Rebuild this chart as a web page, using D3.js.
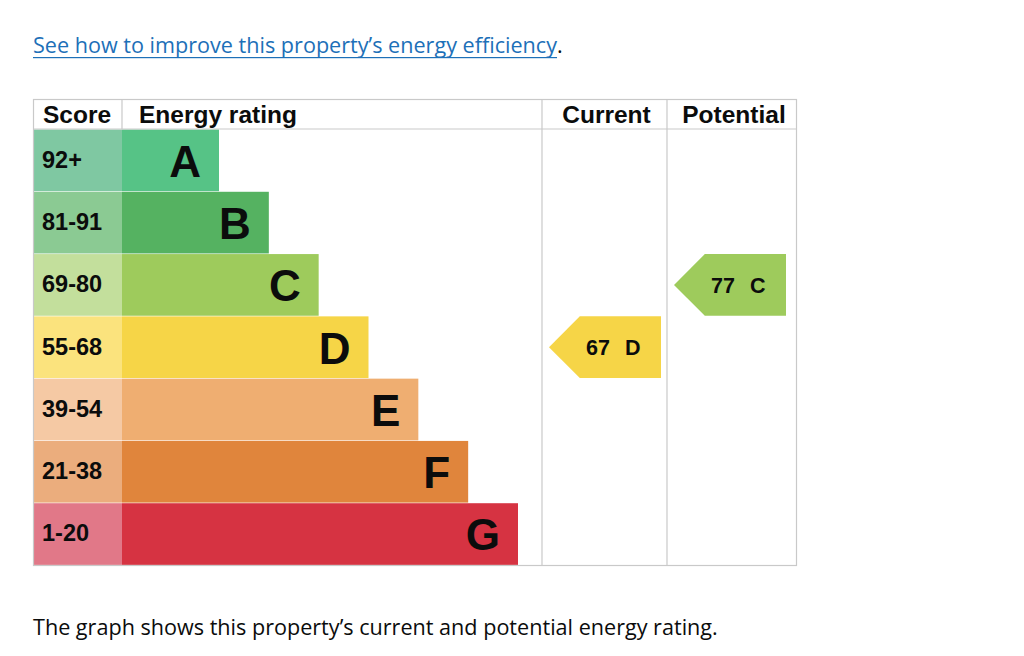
<!DOCTYPE html>
<html>
<head>
<meta charset="utf-8">
<script src="https://cdn.jsdelivr.net/npm/d3@7"></script>
<style>
  body { margin: 0; background: #fff; }
  svg { display: block; }
</style>
</head>
<body>
<svg width="1024" height="656"></svg>
<script>
// bands, score ranges and colours
var bands = ['A', 'B', 'C', 'D', 'E', 'F', 'G'];
var scoreRanges = ['92+', '81-91', '69-80', '55-68', '39-54', '21-38', '1-20'];
var bandColors = ['#56c386', '#55b261', '#9ecb5c', '#f6d547', '#efae71', '#e0853c', '#d63342'];
var scoreColors = ['#7fc8a2', '#8bca93', '#c3df9c', '#fbe37d', '#f5c9a4', '#ebad7d', '#e17888'];

// column headers
var headers = ['Score', 'Energy rating', 'Current', 'Potential'];

// current / potential ratings
var ratingCols = ['Current', 'Potential'];
var ratingScores = [67, 77];
var ratingBands = ['D', 'C'];

var svg = d3.select('svg');
var font = '"Liberation Sans", Arial, sans-serif';
var bodyFont = '"Open Sans", "Liberation Sans", Arial, sans-serif';

// layout
var tableL = 33, tableR = 797, tableT = 99, headBottom = 129.5, tableB = 565.5;
var colX = {'Score': 33, 'Energy rating': 122, 'Current': 542, 'Potential': 667};
var colEnd = {'Score': 122, 'Energy rating': 542, 'Current': 667, 'Potential': 797};

var y = d3.scaleBand().domain(bands).range([headBottom, tableB]);
var barEnd = d3.scalePoint().domain(bands).range([219, 518]);
var color = d3.scaleOrdinal().domain(bands).range(bandColors);
var scoreColor = d3.scaleOrdinal().domain(bands).range(scoreColors);

// link text at the top
var link = svg.append('text')
    .attr('x', tableL).attr('y', 53)
    .attr('font-family', bodyFont).attr('font-size', 21.6)
    .attr('fill', '#1d70b8')
    .text('See how to improve this property’s energy efficiency');
var linkW = link.node().getComputedTextLength();
svg.append('rect')
    .attr('x', tableL).attr('y', 57)
    .attr('width', linkW).attr('height', 1.2)
    .attr('fill', '#1d70b8');
svg.append('text')
    .attr('x', tableL + linkW).attr('y', 53)
    .attr('font-family', bodyFont).attr('font-size', 21.6)
    .attr('fill', '#0b0c0c')
    .text('.');

// score cells + bars
var rows = svg.selectAll('g.row').data(bands).enter().append('g').attr('class', 'row');

rows.append('rect')
    .attr('x', colX['Score'])
    .attr('y', d => y(d))
    .attr('width', colEnd['Score'] - colX['Score'])
    .attr('height', y.bandwidth() - 0.6)
    .attr('fill', d => scoreColor(d));

rows.append('rect')
    .attr('x', colX['Energy rating'])
    .attr('y', d => y(d))
    .attr('width', d => barEnd(d) - colX['Energy rating'])
    .attr('height', y.bandwidth() - 0.6)
    .attr('fill', d => color(d));

rows.append('text')
    .attr('x', colX['Score'] + 9)
    .attr('y', d => y(d) + y.bandwidth() / 2 + 7)
    .attr('font-family', font).attr('font-weight', 'bold').attr('font-size', 23.5)
    .attr('fill', '#0b0c0c')
    .text((d, i) => scoreRanges[i]);

rows.append('text')
    .attr('x', d => barEnd(d) - 18)
    .attr('y', d => y(d) + y.bandwidth() / 2 + 16)
    .attr('text-anchor', 'end')
    .attr('font-family', font).attr('font-weight', 'bold').attr('font-size', 44)
    .attr('fill', '#0b0c0c')
    .text(d => d);

// grid lines
var lineColor = '#c9c9c9';
var grid = svg.append('g').attr('stroke', lineColor).attr('stroke-width', 1.2).attr('fill', 'none');
grid.append('rect').attr('x', tableL + 0.5).attr('y', tableT + 0.5)
    .attr('width', tableR - tableL - 1).attr('height', tableB - tableT - 0.5);
grid.append('line').attr('x1', tableL).attr('x2', tableR).attr('y1', headBottom - 0.5).attr('y2', headBottom - 0.5);
grid.append('line').attr('x1', colX['Energy rating']).attr('x2', colX['Energy rating']).attr('y1', tableT).attr('y2', headBottom);
grid.append('line').attr('x1', colX['Current']).attr('x2', colX['Current']).attr('y1', tableT).attr('y2', tableB);
grid.append('line').attr('x1', colX['Potential']).attr('x2', colX['Potential']).attr('y1', tableT).attr('y2', tableB);

// headers
svg.selectAll('text.head').data(headers).enter().append('text')
    .attr('class', 'head')
    .attr('x', d => d == 'Score' ? colX[d] + 10 : d == 'Energy rating' ? colX[d] + 17 : (colX[d] + colEnd[d]) / 2 + 2)
    .attr('y', 123)
    .attr('text-anchor', d => (d == 'Current' || d == 'Potential') ? 'middle' : 'start')
    .attr('font-family', font).attr('font-weight', 'bold').attr('font-size', 24.5)
    .attr('fill', '#0b0c0c')
    .text(d => d);

// arrows for current / potential
var arrowW = 112;
var arrows = svg.selectAll('g.arrow').data(ratingCols).enter().append('g').attr('class', 'arrow');
arrows.append('path')
    .attr('d', (d, i) => {
        var b = ratingBands[i];
        var x0 = colX[d] + 7, y0 = y(b), h = y.bandwidth() - 0.6;
        return 'M' + x0 + ',' + (y0 + h / 2) +
            'L' + (x0 + h / 2) + ',' + y0 +
            'L' + (x0 + arrowW) + ',' + y0 +
            'L' + (x0 + arrowW) + ',' + (y0 + h) +
            'L' + (x0 + h / 2) + ',' + (y0 + h) + 'Z';
    })
    .attr('fill', (d, i) => color(ratingBands[i]));
var at = arrows.append('text')
    .attr('x', d => colX[d] + 44)
    .attr('y', (d, i) => y(ratingBands[i]) + y.bandwidth() / 2 + 7.5)
    .attr('font-family', font).attr('font-weight', 'bold').attr('font-size', 21.5)
    .attr('fill', '#0b0c0c');
at.append('tspan').text((d, i) => ratingScores[i]);
at.append('tspan').attr('dx', 15).text((d, i) => ratingBands[i]);

// caption
svg.append('text')
    .attr('x', tableL).attr('y', 635)
    .attr('font-family', bodyFont).attr('font-size', 21.6)
    .attr('fill', '#0b0c0c')
    .text('The graph shows this property’s current and potential energy rating.');
</script>
</body>
</html>
